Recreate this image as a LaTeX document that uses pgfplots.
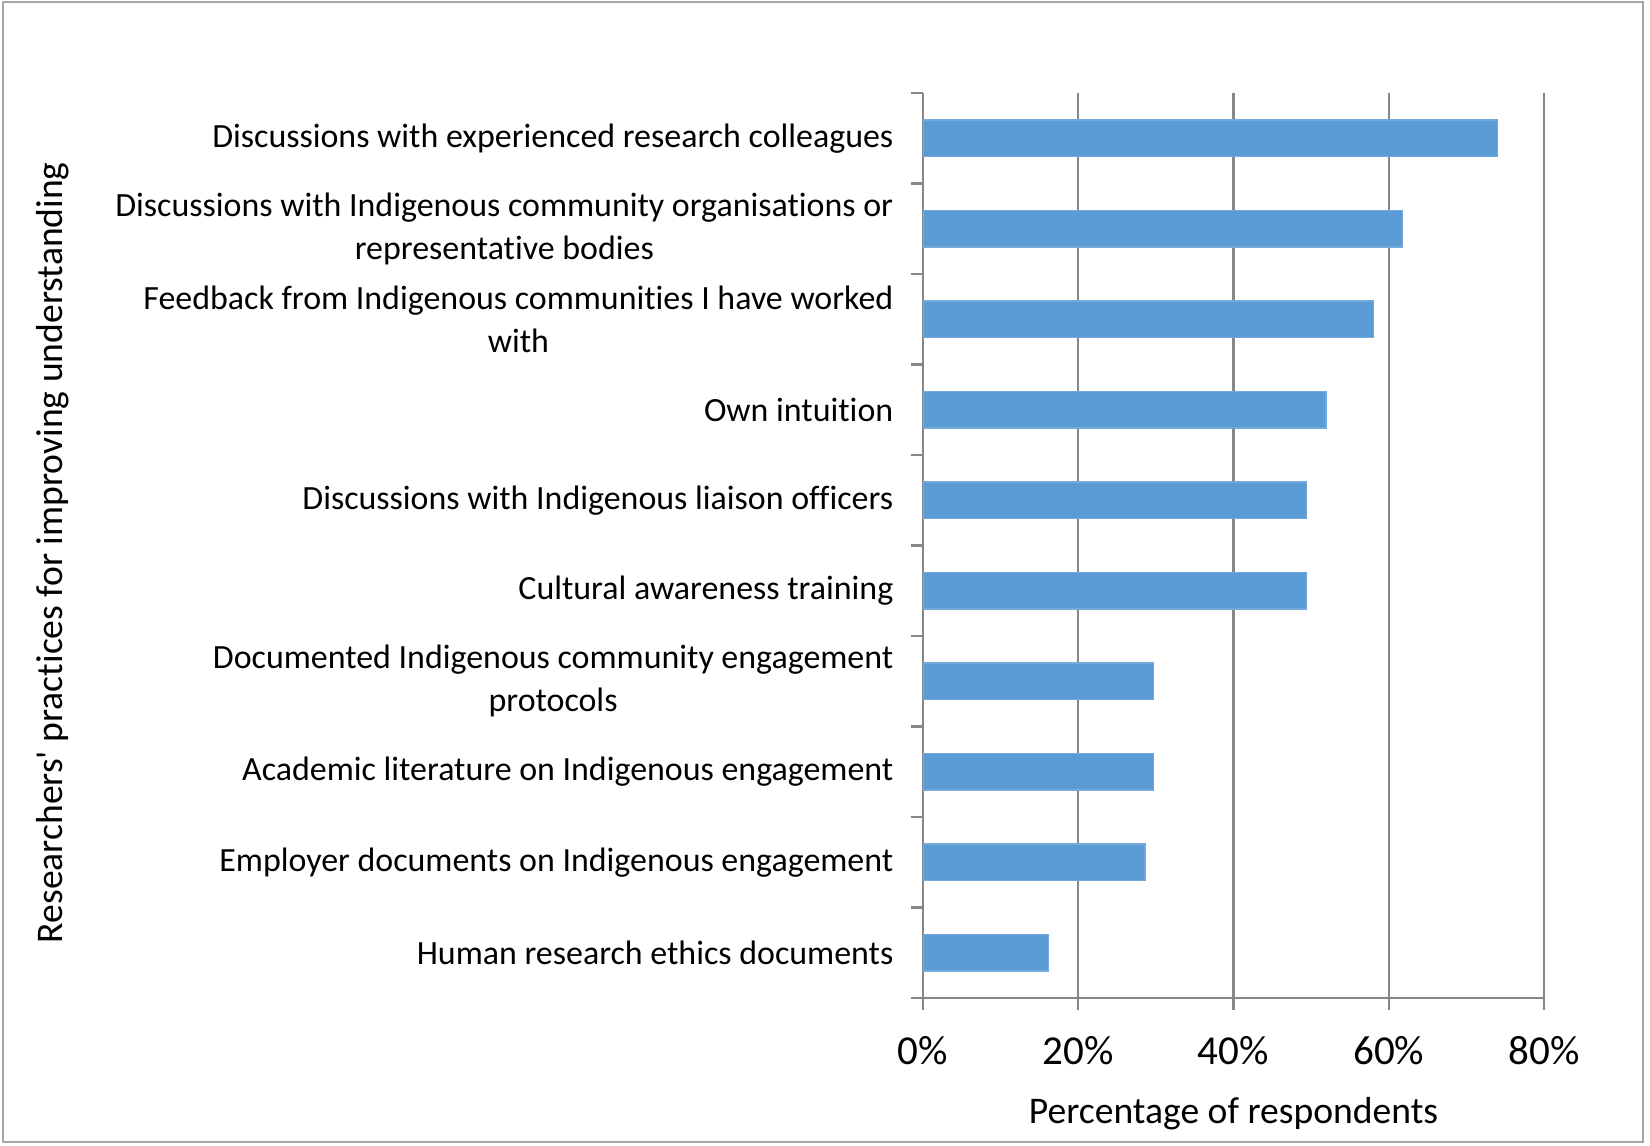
\documentclass[border=0pt]{standalone}
\usepackage{pgfplots}
\pgfplotsset{compat=1.18}
\usepackage{fontspec}
\setmainfont{Carlito}[Ligatures={NoCommon,NoContextual},RawFeature={-calt}]
\definecolor{barblue}{HTML}{5B9BD5}
\definecolor{gridgray}{HTML}{878787}
\definecolor{framegray}{HTML}{A6A6A6}
\begin{document}
\begin{tikzpicture}
\useasboundingbox (0,0) rectangle (16.5,11.45);
\draw[framegray, line width=0.7pt] (0.03,0.03) rectangle (16.43,11.43);
\begin{axis}[
  at={(9.23cm,1.47cm)}, anchor=south west,
  scale only axis, width=6.21cm, height=9.05cm,
  xbar, bar width=0.362cm,
  xmin=0, xmax=80, ymin=-0.5, ymax=9.5,
  axis x line*=bottom, axis y line*=left,
  axis line style={draw=gridgray, line width=0.6pt, -},
  xtick={0,20,40,60,80},
  xticklabels={0\%,20\%,40\%,60\%,80\%},
  xmajorgrids, grid style={draw=gridgray, line width=0.6pt},
  ytick={-0.5,0.5,...,9.5},
  y tick label as interval,
  yticklabels={
    {Human research ethics documents},
    {Employer documents on Indigenous engagement},
    {Academic literature on Indigenous engagement},
    {Documented Indigenous community engagement\\protocols},
    {Cultural awareness training},
    {Discussions with Indigenous liaison officers},
    {Own intuition},
    {Feedback from Indigenous communities I have worked\\with},
    {Discussions with Indigenous community organisations or\\representative bodies},
    {Discussions with experienced research colleagues}},
  tick align=outside, major tick length=0.12cm,
  tick style={draw=gridgray, line width=0.6pt},
  xtick pos=bottom, ytick pos=left,
  xticklabel style={anchor=base, inner sep=0pt, yshift=-0.54cm, font=\fontsize{11.7}{14}\selectfont},
  yticklabel style={anchor=east, inner sep=0pt, xshift=-0.17cm, align=center, font=\fontsize{9.65}{12.3}\selectfont},
  xlabel={Percentage of respondents},
  xlabel style={at={(axis description cs:0.5,0)}, anchor=base, yshift=-1.25cm, font=\fontsize{10.7}{13}\selectfont},
  ylabel={Researchers\textquotesingle\ practices for improving understanding},
  ylabel style={at={(axis description cs:-1.385,0.492)}, anchor=base, font=\fontsize{10.7}{13}\selectfont},
]
\addplot[fill=barblue, draw=barblue!85!white, line width=0.4pt] coordinates {
  (16.2,0) (28.6,1) (29.7,2) (29.7,3) (49.4,4) (49.4,5) (51.9,6) (58.0,7) (61.8,8) (74.0,9)
};
\end{axis}
\end{tikzpicture}
\end{document}
